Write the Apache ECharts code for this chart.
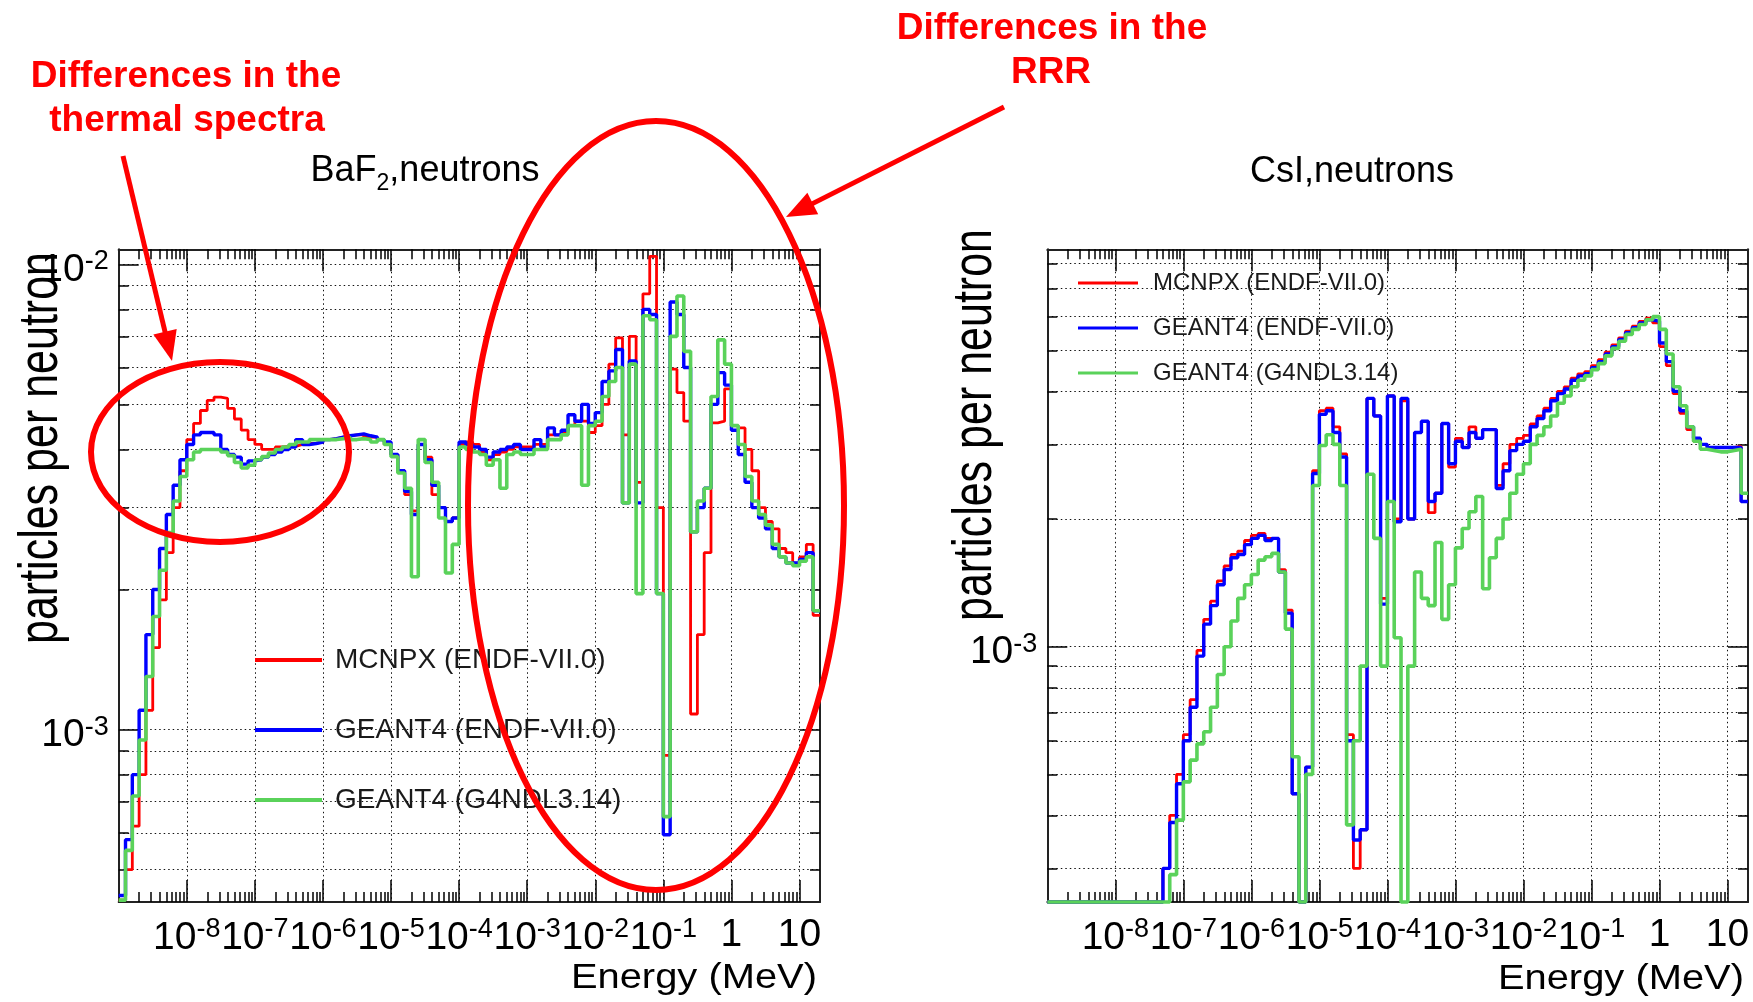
<!DOCTYPE html>
<html>
<head>
<meta charset="utf-8">
<script src="https://cdn.jsdelivr.net/npm/echarts@6/dist/echarts.min.js"></script>
<style>
html,body{margin:0;padding:0;background:#fff;}
#chart{width:1753px;height:1002px;}
</style>
</head>
<body>
<div id="chart"></div>
<script>
// ---------------- DATA ----------------
// Histogram binning: log-spaced bins of 0.1 decade from 1e-9 MeV up to 10^1.3 (~20) MeV
const LOG_E_MIN = -9;
const BIN_WIDTH_DEC = 0.1;
const N_BINS = 103;

const seriesNames = ['MCNPX (ENDF-VII.0)', 'GEANT4 (ENDF-VII.0)', 'GEANT4 (G4NDL3.14)'];

// BaF2 spectra, values in units of 1e-3 particles per neutron (one value per bin)
const baf2_mcnpx = [
  0.43,0.5,0.62,0.8,1.1,1.5,1.9,2.4,3.0,3.6,
  4.2,4.55,4.85,5.1,5.18,5.15,4.9,4.65,4.4,4.2,
  4.1,4.0,4.0,4.05,4.06,4.06,4.1,4.12,4.12,4.15,
  4.2,4.22,4.25,4.28,4.3,4.3,4.25,4.25,4.2,4.1,
  3.9,3.6,3.2,2.95,4.1,3.85,3.2,3.0,2.8,2.85,
  4.1,4.15,4.1,3.95,3.8,3.9,3.95,4.0,4.05,4.05,
  4.05,4.1,4.1,4.3,4.3,4.35,4.5,4.6,4.6,4.35,
  4.5,5.0,6.1,6.95,4.3,7.0,3.4,8.64,10.4,3.0,
  0.88,5.95,5.3,4.6,1.08,1.6,2.4,4.56,4.6,5.4,
  4.5,4.45,4.0,3.6,3.0,2.8,2.7,2.45,2.4,2.28,
  2.35,2.5,1.76
];
const baf2_g4endf = [
  0.44,0.58,0.8,1.1,1.6,2.0,2.45,2.9,3.35,3.8,
  4.1,4.3,4.35,4.35,4.3,4.0,3.9,3.85,3.72,3.78,
  3.8,3.85,3.9,3.95,4.0,4.05,4.2,4.1,4.12,4.15,
  4.2,4.22,4.25,4.28,4.3,4.32,4.28,4.25,4.2,4.15,
  3.9,3.6,3.25,2.9,4.1,3.8,3.35,3.0,2.8,2.85,
  4.15,4.1,4.05,4.0,3.85,3.95,4.0,4.05,4.1,4.0,
  4.0,4.2,4.05,4.45,4.3,4.4,4.75,4.6,5.0,4.55,
  4.8,5.6,5.9,6.56,3.07,6.2,3.07,8.0,7.8,1.96,
  0.594,8.3,7.8,6.0,2.66,3.0,3.3,5.0,5.85,5.5,
  4.4,3.9,3.4,3.0,2.85,2.7,2.45,2.35,2.28,2.28,
  2.32,2.4,1.8
];
const baf2_g4ndl = [
  0.43,0.55,0.72,0.95,1.3,1.75,2.2,2.65,3.1,3.5,
  3.8,3.95,4.0,4.0,4.0,3.95,3.88,3.75,3.65,3.7,
  3.8,3.86,3.93,4.0,4.05,4.1,4.15,4.15,4.2,4.2,
  4.2,4.2,4.22,4.25,4.2,4.22,4.2,4.15,4.2,4.1,
  3.86,3.56,3.3,2.13,4.2,3.75,3.4,2.85,2.17,2.5,
  4.05,4.0,3.95,3.9,3.7,3.8,3.3,3.9,3.95,3.9,
  3.9,4.0,4.0,4.2,4.2,4.3,4.5,4.5,3.35,4.5,
  4.6,5.2,5.6,6.0,3.07,6.1,1.96,7.75,7.6,1.96,
  0.65,7.0,8.55,6.5,2.66,3.1,3.3,5.2,6.88,6.1,
  4.5,4.1,3.5,3.1,2.9,2.75,2.5,2.35,2.28,2.25,
  2.3,2.35,1.8
];

// CsI spectra, values in units of 1e-3 particles per neutron (0.25 = empty bin at the frame floor)
const csi_mcnpx = [
  0.25,0.25,0.25,0.25,0.25,0.25,0.25,0.25,0.25,0.25,
  0.25,0.25,0.25,0.25,0.25,0.25,0.25,0.3,0.4,0.5,
  0.62,0.75,0.98,1.16,1.28,1.43,1.55,1.65,1.68,1.78,
  1.83,1.85,1.8,1.8,1.52,1.22,0.45,0.25,0.52,2.6,
  3.6,3.65,3.3,2.85,0.62,0.3,0.37,3.85,3.5,1.3,
  3.9,2.0,3.8,2.0,3.2,3.4,2.07,2.3,3.36,2.65,
  3.1,2.95,3.3,3.1,3.25,3.25,2.4,2.7,3.0,3.1,
  3.15,3.35,3.5,3.65,3.85,4.0,4.1,4.3,4.4,4.45,
  4.6,4.75,4.95,5.15,5.35,5.55,5.7,5.85,5.95,5.8,
  5.1,4.6,3.95,3.55,3.25,3.05,3.0,2.95,2.95,2.95,
  2.95,2.97,2.2
];
const csi_g4endf = [
  0.25,0.25,0.25,0.25,0.25,0.25,0.25,0.25,0.25,0.25,
  0.25,0.25,0.25,0.25,0.25,0.25,0.25,0.3,0.385,0.475,
  0.6,0.72,0.95,1.13,1.25,1.4,1.52,1.62,1.65,1.74,
  1.8,1.83,1.78,1.8,1.5,1.2,0.45,0.25,0.52,2.56,
  3.53,3.6,3.2,2.8,0.6,0.35,0.37,3.85,3.5,1.26,
  3.9,1.97,3.85,2.0,3.2,3.4,2.2,2.3,3.36,2.7,
  3.05,2.95,3.2,3.1,3.25,3.25,2.36,2.6,2.9,3.0,
  3.05,3.3,3.45,3.6,3.8,3.95,4.05,4.25,4.35,4.4,
  4.55,4.7,4.9,5.1,5.3,5.5,5.65,5.8,5.9,5.85,
  5.2,4.7,4.0,3.6,3.3,3.1,3.0,2.95,2.95,2.95,
  2.95,2.95,2.2
];
const csi_g4ndl = [
  0.25,0.25,0.25,0.25,0.25,0.25,0.25,0.25,0.25,0.25,
  0.25,0.25,0.25,0.25,0.25,0.25,0.25,0.25,0.29,0.39,
  0.48,0.54,0.59,0.63,0.72,0.86,1.0,1.15,1.3,1.4,
  1.48,1.6,1.63,1.66,1.5,1.1,0.55,0.25,0.5,2.4,
  2.98,3.16,3.0,2.4,0.38,0.6,0.9,2.55,1.8,0.9,
  2.2,1.05,0.25,0.9,1.5,1.3,1.25,1.76,1.16,1.4,
  1.71,1.9,2.08,2.26,1.37,1.62,1.8,2.0,2.3,2.55,
  2.7,3.0,3.15,3.3,3.5,3.75,3.9,4.1,4.25,4.35,
  4.5,4.65,4.85,5.05,5.25,5.45,5.6,5.75,5.9,6.0,
  5.6,4.9,4.1,3.7,3.3,3.05,2.92,2.9,2.88,2.88,
  2.9,2.92,2.3
];

// Axes / ticks
const X_MIN = 1e-9, X_MAX = 20;
const xMajorTicks = [1e-8, 1e-7, 1e-6, 1e-5, 1e-4, 1e-3, 1e-2, 1e-1, 1, 10];
const xDecades = [1e-9, 1e-8, 1e-7, 1e-6, 1e-5, 1e-4, 1e-3, 1e-2, 1e-1, 1, 10];
const minorMult = [2, 3, 4, 5, 6, 7, 8, 9];
const yDecades = [1e-4, 1e-3, 1e-2];
const baf2YRange = [4.26e-4, 1.077e-2];
const csiYRange = [2.5e-4, 8.65e-3];
const baf2YLabels = [1e-3, 1e-2];
const csiYLabels = [1e-3];

// ---------------- STYLE ----------------
const FF = '"Liberation Sans", Arial, Helvetica, sans-serif';
const COLORS = ['#ff0000', '#0000ff', '#5ad25a'];
const WIDTHS = [2.8, 3.4, 3.6];
const ANN = '#ff0000';

const binEdges = Array.from({length: N_BINS + 1}, (_, k) => Math.pow(10, LOG_E_MIN + BIN_WIDTH_DEC * k));
function histData(vals) {
  const d = vals.map((v, k) => [binEdges[k], v * 1e-3]);
  d.push([binEdges[N_BINS], vals[N_BINS - 1] * 1e-3]);
  return d;
}

const xMinorTicks = xDecades.flatMap(d => minorMult.map(m => m * d)).filter(v => v < X_MAX * 0.999);
const yAll = yDecades.flatMap(d => [1].concat(minorMult).map(m => m * d));

function expFmt(v) {
  const e = Math.round(Math.log10(v));
  if (e >= 0) return '{b|' + Math.round(Math.pow(10, e)) + '}';
  return '{b|10}{s|' + e + '}';
}
const labelRich = {
  b: {fontSize: 39, fontFamily: FF, color: '#000'},
  s: {fontSize: 27, fontFamily: FF, color: '#000', padding: [0, 0, 17, 0]}
};
const tickLine = {color: '#000', width: 1.5};
const frameLine = {color: '#222', width: 2};
const gridDots = {color: '#111', width: 1, type: [1.5, 3]};

const grids = [
  {left: 118.7, top: 249.3, width: 701.3, height: 652.7},
  {left: 1047.3, top: 249.3, width: 700.7, height: 652.7}
];

const xAxes = [], yAxes = [], primX = [], primY = [];
function addAxes(g, yRange, yLabels) {
  const yTicks = yAll.filter(v => v >= yRange[0] && v <= yRange[1]);
  const yMaj = yLabels;
  const base = {type: 'log', logBase: 10, gridIndex: g, min: X_MIN, max: X_MAX, silent: true,
    minorTick: {show: false}, minorSplitLine: {show: false}};
  primX[g] = xAxes.length;
  xAxes.push(Object.assign({}, base, {position: 'bottom',
    axisLine: {show: true, onZero: false, lineStyle: frameLine},
    axisTick: {show: true, inside: true, length: 22, customValues: xMajorTicks, lineStyle: tickLine},
    axisLabel: {show: true, customValues: xMajorTicks, formatter: expFmt, margin: 14, rich: labelRich,
      fontSize: 39, fontFamily: FF, color: '#000'},
    splitLine: {show: true, lineStyle: gridDots}}));
  xAxes.push(Object.assign({}, base, {position: 'bottom',
    axisLine: {show: false},
    axisTick: {show: true, inside: true, length: 10, customValues: xMinorTicks, lineStyle: tickLine},
    axisLabel: {show: false}, splitLine: {show: false}}));
  xAxes.push(Object.assign({}, base, {position: 'top',
    axisLine: {show: true, onZero: false, lineStyle: frameLine},
    axisTick: {show: true, inside: true, length: 22, customValues: xMajorTicks, lineStyle: tickLine},
    axisLabel: {show: false}, splitLine: {show: false}}));
  xAxes.push(Object.assign({}, base, {position: 'top',
    axisLine: {show: false},
    axisTick: {show: true, inside: true, length: 10, customValues: xMinorTicks, lineStyle: tickLine},
    axisLabel: {show: false}, splitLine: {show: false}}));

  const ybase = {type: 'log', logBase: 10, gridIndex: g, min: yRange[0], max: yRange[1], silent: true,
    minorTick: {show: false}, minorSplitLine: {show: false}};
  primY[g] = yAxes.length;
  yAxes.push(Object.assign({}, ybase, {position: 'left',
    axisLine: {show: true, onZero: false, lineStyle: frameLine},
    axisTick: {show: true, inside: true, length: 10, customValues: yTicks, lineStyle: tickLine},
    axisLabel: {show: true, customValues: yMaj, formatter: expFmt, margin: 10, rich: labelRich,
      fontSize: 39, fontFamily: FF, color: '#000', padding: [12, 0, 0, 0]},
    splitLine: {show: true, lineStyle: gridDots}}));
  yAxes.push(Object.assign({}, ybase, {position: 'left',
    axisLine: {show: false},
    axisTick: {show: true, inside: true, length: 20, customValues: yMaj, lineStyle: tickLine},
    axisLabel: {show: false}, splitLine: {show: false}}));
  yAxes.push(Object.assign({}, ybase, {position: 'right',
    axisLine: {show: true, onZero: false, lineStyle: frameLine},
    axisTick: {show: true, inside: true, length: 10, customValues: yTicks, lineStyle: tickLine},
    axisLabel: {show: false}, splitLine: {show: false}}));
  yAxes.push(Object.assign({}, ybase, {position: 'right',
    axisLine: {show: false},
    axisTick: {show: true, inside: true, length: 20, customValues: yMaj, lineStyle: tickLine},
    axisLabel: {show: false}, splitLine: {show: false}}));
}
addAxes(0, baf2YRange, baf2YLabels);
addAxes(1, csiYRange, csiYLabels);

const plotSeries = [
  [baf2_mcnpx, baf2_g4endf, baf2_g4ndl],
  [csi_mcnpx, csi_g4endf, csi_g4ndl]
];
const series = [];
plotSeries.forEach((set, g) => {
  set.forEach((vals, i) => {
    series.push({
      type: 'line', name: seriesNames[i], step: 'end', symbol: 'none', showSymbol: false,
      xAxisIndex: primX[g], yAxisIndex: primY[g], data: histData(vals),
      lineStyle: {color: COLORS[i], width: WIDTHS[i]}, itemStyle: {color: COLORS[i]},
      clip: false, silent: true, animation: false, z: 3 + i
    });
  });
});

function arrow(x1, y1, x2, y2, headLen, headHalf, w) {
  const dx = x2 - x1, dy = y2 - y1, L = Math.hypot(dx, dy), ux = dx / L, uy = dy / L;
  const bx = x2 - ux * headLen, by = y2 - uy * headLen;
  return [
    {type: 'line', z: 100, shape: {x1: x1, y1: y1, x2: bx + ux * 2, y2: by + uy * 2}, style: {stroke: ANN, lineWidth: w}},
    {type: 'polygon', z: 100, shape: {points: [[x2, y2], [bx - uy * headHalf, by + ux * headHalf], [bx + uy * headHalf, by - ux * headHalf]]}, style: {fill: ANN}}
  ];
}
function txt(x, y, text, size, opts, extra) {
  return Object.assign({type: 'text', x: x, y: y, z: 100,
    style: Object.assign({text: text, fontSize: size, fontFamily: FF, fill: '#000', align: 'center', verticalAlign: 'middle'}, opts || {})},
    extra || {});
}

const graphic = [
  // plot titles
  {type: 'text', x: 425, y: 171, z: 100, style: {text: '{a|BaF}{s|2}{a|,neutrons}', align: 'center', verticalAlign: 'middle',
    rich: {a: {fontSize: 36, fontFamily: FF, fill: '#000'}, s: {fontSize: 23, fontFamily: FF, fill: '#000', padding: [26, 0, 0, 0]}}}},
  txt(1352, 172, 'CsI,neutrons', 36),
  // axis titles
  txt(817, 978, 'Energy (MeV)', 35, {align: 'right'}, {scaleX: 1.14}),
  txt(1744, 979, 'Energy (MeV)', 35, {align: 'right'}, {scaleX: 1.14}),
  txt(42, 252, 'particles per neutron', 43, {align: 'right'}, {rotation: Math.PI / 2, scaleY: 1.3}),
  txt(976, 229, 'particles per neutron', 43, {align: 'right'}, {rotation: Math.PI / 2, scaleY: 1.3}),
  // annotations
  txt(186, 77, 'Differences in the', 37, {fill: ANN, fontWeight: 'bold'}),
  txt(187, 121, 'thermal spectra', 37, {fill: ANN, fontWeight: 'bold'}),
  txt(1052, 29, 'Differences in the', 37, {fill: ANN, fontWeight: 'bold'}),
  txt(1051, 73, 'RRR', 37, {fill: ANN, fontWeight: 'bold'}),
  {type: 'ellipse', z: 100, shape: {cx: 220, cy: 452, rx: 129, ry: 90}, style: {fill: null, stroke: ANN, lineWidth: 6}},
  {type: 'ellipse', z: 100, shape: {cx: 656, cy: 505.5, rx: 188, ry: 384.5}, style: {fill: null, stroke: ANN, lineWidth: 6}}
].concat(arrow(123, 156, 172, 361, 30, 12, 5)).concat(arrow(1004, 107, 786, 217, 30, 12, 5));

const chart = echarts.init(document.getElementById('chart'), null, {renderer: 'canvas'});
chart.setOption({
  backgroundColor: '#ffffff',
  animation: false,
  grid: grids.map(g => Object.assign({containLabel: false, outerBoundsMode: 'none', show: false}, g)),
  xAxis: xAxes,
  yAxis: yAxes,
  legend: [
    {data: seriesNames, orient: 'vertical', left: 255, top: 645, padding: 0, itemWidth: 67, itemHeight: 4,
      itemGap: 40, icon: 'rect', selectedMode: false,
      textStyle: {fontSize: 28, lineHeight: 30, color: '#1a1a1a', fontFamily: FF, padding: [0, 0, 0, 8]}},
    {data: seriesNames, orient: 'vertical', left: 1078, top: 270, padding: 0, itemWidth: 60, itemHeight: 3,
      itemGap: 19, icon: 'rect', selectedMode: false,
      textStyle: {fontSize: 24, lineHeight: 26, color: '#1a1a1a', fontFamily: FF, padding: [0, 0, 0, 10]}}
  ],
  tooltip: {show: false},
  series: series,
  graphic: graphic
});
</script>
</body>
</html>
